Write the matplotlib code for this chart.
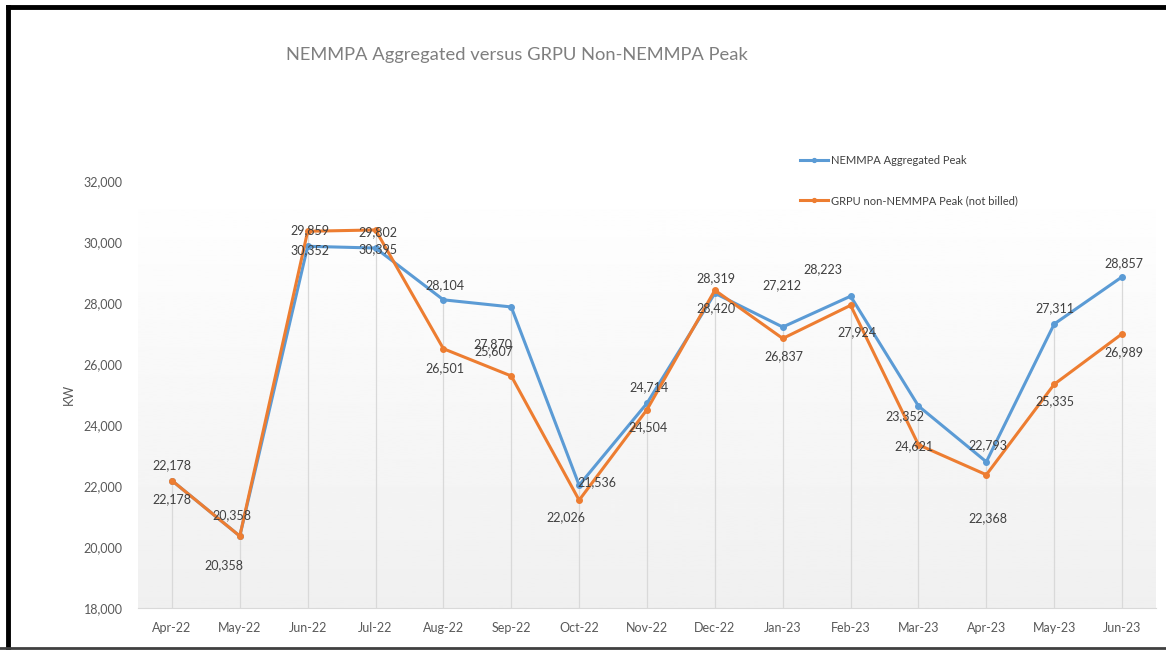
import numpy as np
import matplotlib
matplotlib.use("Agg")
import matplotlib.pyplot as plt
from matplotlib.lines import Line2D

months = ["Apr-22", "May-22", "Jun-22", "Jul-22", "Aug-22", "Sep-22", "Oct-22", "Nov-22",
          "Dec-22", "Jan-23", "Feb-23", "Mar-23", "Apr-23", "May-23", "Jun-23"]
nemmpa = [22178, 20358, 29859, 29802, 28104, 27870, 22026, 24714,
          28319, 27212, 28223, 24621, 22793, 27311, 28857]
grpu = [22178, 20358, 30352, 30395, 26501, 25607, 21536, 24504,
        28420, 26837, 27924, 23352, 22368, 25335, 26989]

# label offsets in pixels (Excel hand-placed data labels)
nemmpa_off = [(0, 15), (-8, 21), (2, 16), (2, 16), (2, 15), (-18, -37), (-13, -32), (2, 16),
              (1, 15), (-1, 42), (-28, 27), (-4, -40), (2, 17), (1, 16), (2, 14)]
grpu_off = [(0, -19), (-16, -29), (2, -19), (2, -19), (2, -19), (-17, 25), (18, 18), (1, -18),
            (1, -18), (1, -18), (6, -27), (-14, 29), (2, -43), (1, -17), (2, -18)]

BLUE = "#5B9BD5"
ORANGE = "#ED7D31"
TXT = "#595959"
plt.rcParams["font.family"] = ["Lato", "DejaVu Sans"]

fig = plt.figure(figsize=(11.66, 6.5), dpi=100)
ax = fig.add_axes([138 / 1166, 42 / 650, 1018 / 1166, 427 / 650])

x = np.arange(len(months))
ax.set_xlim(-0.5, len(months) - 0.5)
ax.set_ylim(18000, 32000)

# gradient plot-area background
grad = np.linspace(1.0, 0.94, 256).reshape(-1, 1)
ax.imshow(grad, cmap="gray", vmin=0, vmax=1, aspect="auto",
          extent=(-0.5, len(months) - 0.5, 18000, 32000), zorder=0)

# drop lines
top = np.maximum(nemmpa, grpu)
ax.vlines(x, 18000, top, color="#d9d9d9", lw=0.9, zorder=1)

ax.plot(x, nemmpa, color=BLUE, lw=2.2, marker="o", ms=4, label="NEMMPA Aggregated Peak", zorder=3)
ax.plot(x, grpu, color=ORANGE, lw=2.2, marker="o", ms=4, label="GRPU non-NEMMPA Peak (not billed)", zorder=4)

for i in range(len(months)):
    ax.annotate(f"{nemmpa[i]:,}", (x[i], nemmpa[i]), xytext=nemmpa_off[i], textcoords="offset pixels",
                ha="center", va="center", fontsize=9, color="#404040", zorder=5)
    ax.annotate(f"{grpu[i]:,}", (x[i], grpu[i]), xytext=grpu_off[i], textcoords="offset pixels",
                ha="center", va="center", fontsize=9, color="#404040", zorder=5)

ax.set_xticks(x)
ax.set_xticklabels(months)
ax.set_yticks(np.arange(18000, 32001, 2000))
ax.yaxis.set_major_formatter(matplotlib.ticker.FuncFormatter(lambda v, p: f"{int(v):,}"))
ax.tick_params(axis="both", length=0, labelsize=9, colors=TXT)
ax.tick_params(axis="y", pad=11)
ax.tick_params(axis="x", pad=10)
for s in ["top", "right", "left"]:
    ax.spines[s].set_visible(False)
ax.spines["bottom"].set_color("#d9d9d9")
ax.set_ylabel("KW", fontsize=9, color=TXT, labelpad=6)

fig.text(517 / 1166, 1 - 55 / 650, "NEMMPA Aggregated versus GRPU Non-NEMMPA Peak",
         ha="center", va="center", fontsize=13.2, color="#7f7f7f")

leg = ax.legend(loc="upper left", bbox_to_anchor=(790 / 1166, 1 - 145 / 650), bbox_transform=fig.transFigure,
                frameon=False, fontsize=8, labelspacing=2.6, handlelength=2.5, handletextpad=0.3,
                markerscale=0.7)
for t in leg.get_texts():
    t.set_color("#404040")

# outer frame
fig.add_artist(Line2D([8 / 1166, 1], [1 - 7 / 650, 1 - 7 / 650], transform=fig.transFigure, color="black", lw=3.5))
fig.add_artist(Line2D([8 / 1166, 8 / 1166], [1 - 7 / 650, 0], transform=fig.transFigure, color="black", lw=3.5))
fig.add_artist(Line2D([0, 1], [2 / 650, 2 / 650], transform=fig.transFigure, color="#404040", lw=2))

fig.savefig("out.png", dpi=100, facecolor="white")
